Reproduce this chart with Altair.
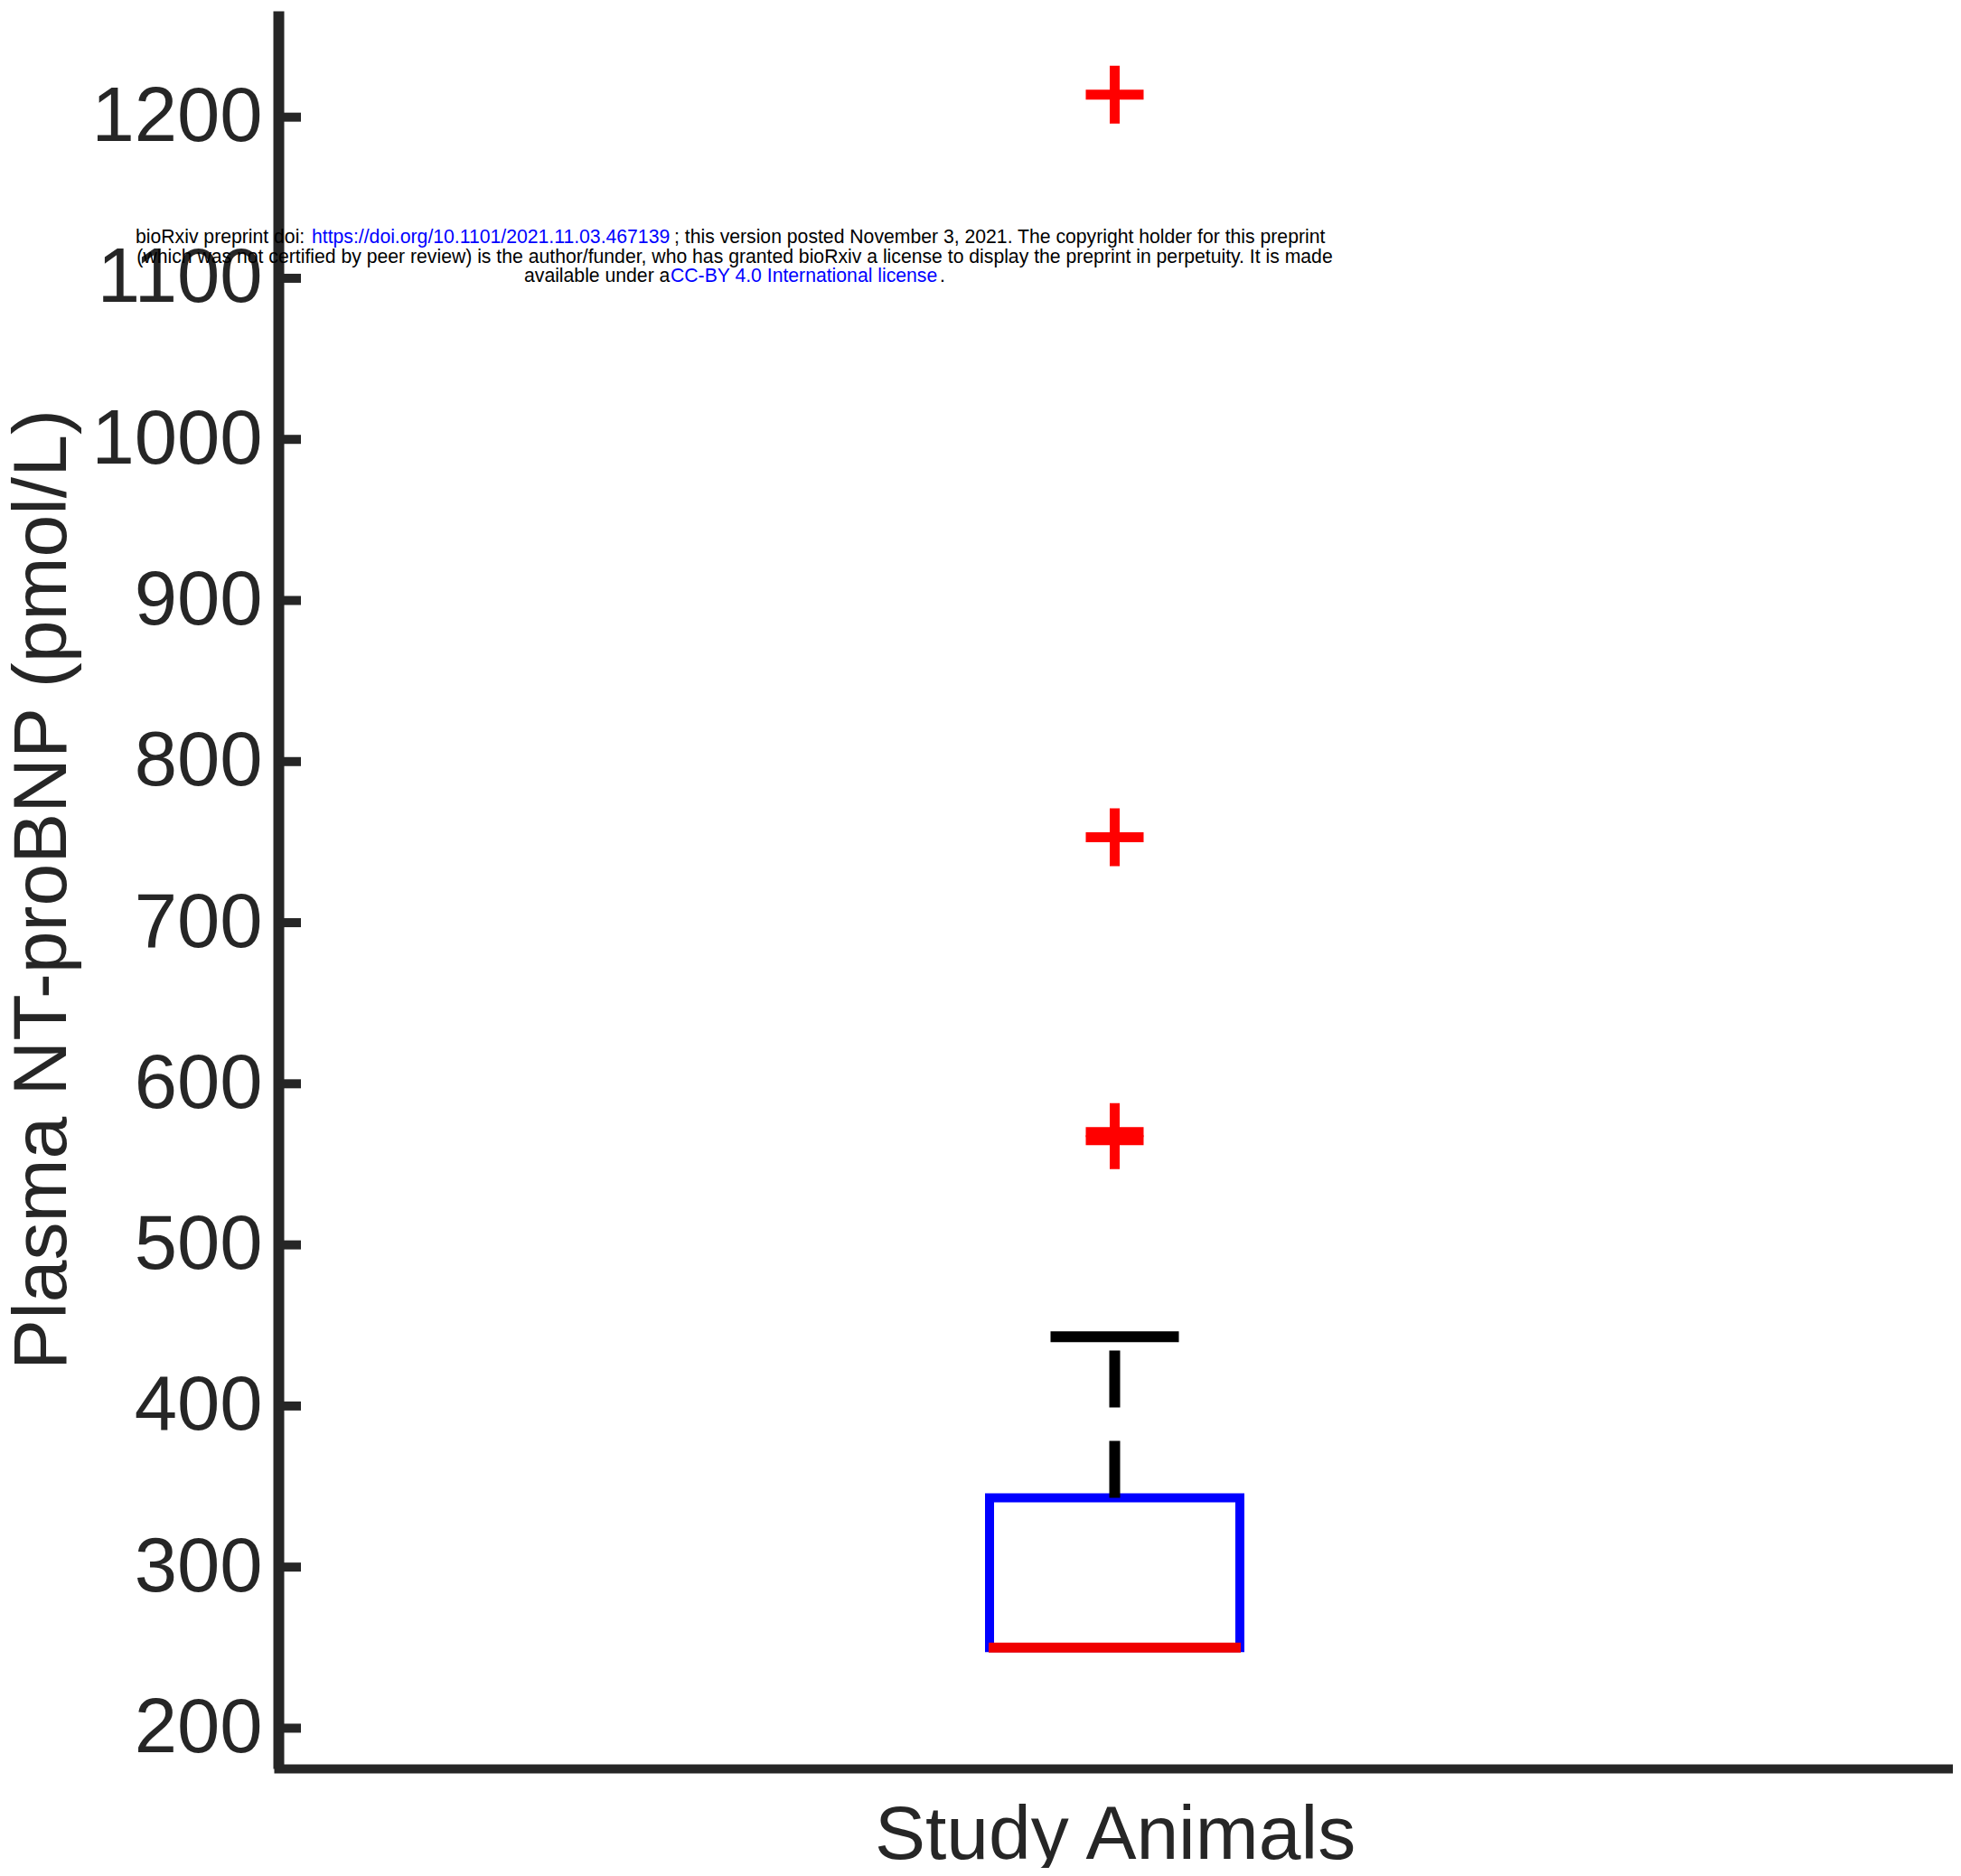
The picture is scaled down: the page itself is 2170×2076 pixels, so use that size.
import altair as alt
import pandas as pd

# ---- data ----
categories = ["Study Animals"]
q1 = [250]
median = [250]
q3 = [343]
whisker_high = [443]
outliers = [1214, 753, 570, 565]
y_ticks = [200, 300, 400, 500, 600, 700, 800, 900, 1000, 1100, 1200]

box_df = pd.DataFrame({
    "cat": categories, "q1": q1, "median": median, "q3": q3, "hi": whisker_high,
})
out_df = pd.DataFrame({"cat": categories * len(outliers), "v": outliers})
tick_df = pd.DataFrame({"v": y_ticks})

AX = "#262626"
FONT = "Liberation Sans"
YTITLE = "Plasma NT-proBNP (pmol/L)"

yscale = alt.Scale(domain=[175, 1266], nice=False, zero=False)
yaxis = alt.Axis(
    values=y_ticks, format="d", ticks=False, grid=False, domain=True, domainWidth=12,
    domainColor=AX, labelFontSize=85, labelColor=AX, labelFont=FONT,
    labelPadding=18, labelFlush=False, labelOverlap=False, labelLimit=500,
    titleFontSize=84, titleFont=FONT, titleFontWeight="normal", titleColor=AX,
    titleAngle=270, titleX=-236, titleY=972, titleBaseline="alphabetic",
    titleAlign="center",
)
xscale = alt.Scale(paddingInner=0, paddingOuter=0)
xaxis = alt.Axis(
    labels=False, ticks=False, grid=False, domain=True, domainWidth=10,
    domainColor=AX, domainCap="square",
    titleFontSize=84, titleFont=FONT, titleFontWeight="normal", titleColor=AX,
    titleY=99, titleBaseline="alphabetic",
)

def X():
    return alt.X("cat:N", scale=xscale, axis=xaxis, title="Study Animals")

def Y(field):
    return alt.Y(field, scale=yscale, axis=yaxis, title=YTITLE)

box = alt.Chart(box_df).mark_bar(
    size=277, color="#0000ff", fillOpacity=0, stroke="#0000ff", strokeWidth=10
).encode(x=X(), y=Y("q3:Q"), y2=alt.Y2("q1:Q"))

whisker = alt.Chart(box_df).mark_rule(
    color="#000000", strokeWidth=12, strokeDash=[63, 37]
).encode(x=X(), y=Y("q3:Q"), y2=alt.Y2("hi:Q"))

cap = alt.Chart(box_df).mark_tick(
    color="#000000", size=142, thickness=12, opacity=1
).encode(x=X(), y=Y("hi:Q"))

med = alt.Chart(box_df).mark_tick(
    color="#f00000", size=279, thickness=11, opacity=1
).encode(x=X(), y=Y("median:Q"))

pts = alt.Chart(out_df).mark_point(
    shape="M-1,0H1M0,-1V1", size=4096, filled=False, stroke="#ff0000",
    strokeWidth=11, opacity=1
).encode(x=X(), y=Y("v:Q"))

yticks = alt.Chart(tick_df).mark_rule(color=AX, strokeWidth=10).encode(
    x=alt.value(0), x2=alt.value(25), y=Y("v:Q")
)

# ---- bioRxiv watermark ----
BLACK, BLUE = "#000000", "#0000ff"
WM_SIZE = 21.2
wm = [
    ("bioRxiv preprint doi: ", BLACK, -158, 251, "left"),
    ("https://doi.org/10.1101/2021.11.03.467139", BLUE, 37, 251, "left"),
    ("; this version posted November 3, 2021. The copyright holder for this preprint", BLACK, 438, 251, "left"),
    ("(which was not certified by peer review) is the author/funder, who has granted bioRxiv a license to display the preprint in perpetuity. It is made", BLACK, 505, 273, "center"),
    ("available under a", BLACK, 272, 294, "left"),
    ("CC-BY 4.0 International license", BLUE, 434, 294, "left"),
    (".", BLACK, 732, 294, "left"),
]
wm_layers = []
for txt, col, xx, yy, al in wm:
    wm_layers.append(
        alt.Chart(pd.DataFrame({"t": [txt]})).mark_text(
            align=al, baseline="middle", fontSize=WM_SIZE, font=FONT, color=col
        ).encode(text="t:N", x=alt.value(xx), y=alt.value(yy))
    )

chart = alt.layer(yticks, box, whisker, cap, med, pts, *wm_layers).properties(
    width=1851, height=1945,
    autosize=alt.AutoSizeParams(type="none"),
    padding={"left": 300, "top": 4, "right": 2, "bottom": 110},
    background="white",
).configure_view(strokeWidth=0)

chart.save("out.html", embed_options={"renderer": "svg", "actions": False})
